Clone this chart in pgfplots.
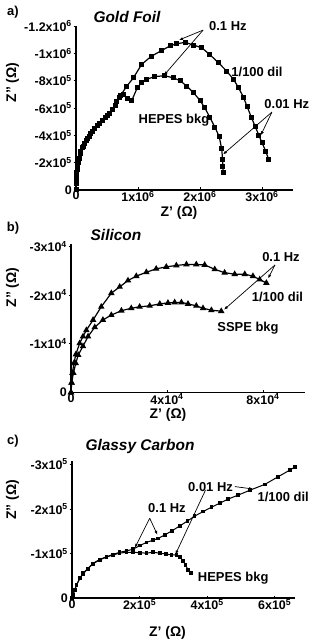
\documentclass[border=0pt]{standalone}
\usepackage{pgfplots}
\pgfplotsset{compat=1.18}
\usepackage{fontspec}
\setmainfont{Liberation Sans}
\usetikzlibrary{arrows.meta}
\newcommand{\sx}[2]{#1x10\textsuperscript{#2}}
\begin{document}
\begin{tikzpicture}[x=1bp,y=1bp]
\useasboundingbox (0,0) rectangle (312,641);
\tikzset{
  ann/.style={font=\bfseries\fontsize{13}{14}\selectfont, inner sep=0pt},
  arr/.style={-{Latex[length=4bp,width=3bp]}, line width=0.7bp},
  plab/.style={font=\bfseries\fontsize{13}{14}\selectfont},
  ttl/.style={font=\bfseries\itshape\fontsize{15.5}{17}\selectfont},
  alab/.style={font=\bfseries\fontsize{14}{15}\selectfont}}
\pgfplotsset{
  panel/.style={
    scale only axis, anchor=south west,
    axis x line*=bottom, axis y line*=left,
    axis line style={-, line width=1.6bp},
    y dir=reverse, scaled ticks=false,
    tick style={black, line width=0.8bp},
    major tick length=2.5bp,
    xtick align=inside, ytick align=outside,
    tick label style={font=\bfseries\fontsize{12.5}{13}\selectfont},
    xticklabel style={inner sep=1bp},
    yticklabel style={inner sep=1.5bp},
    clip=false,
    every axis plot/.append style={black, line width=1.2bp},
  },
}
% ---------- panel a ----------
\begin{axis}[panel, at={(76bp,451bp)}, width=217bp, height=164bp,
  xmin=0, xmax=3.5e6, ymin=-1.2e6, ymax=0,
  xtick={0,1e6,2e6,3e6}, xticklabels={0,\sx{1}{6},\sx{2}{6},\sx{3}{6}},
  ytick={-1.2e6,-1e6,-8e5,-6e5,-4e5,-2e5,0},
  yticklabels={-\sx{1.2}{6},-\sx{1}{6},-\sx{8}{5},-\sx{6}{5},-\sx{4}{5},-\sx{2}{5},0}]
\addplot[mark=square*, mark size=1.9bp] coordinates {
(0,0)(0.005e6,-0.05e6)(0.01e6,-0.1e6)(0.02e6,-0.15e6)(0.04e6,-0.2e6)(0.065e6,-0.27e6)
(0.1e6,-0.31e6)(0.145e6,-0.34e6)(0.185e6,-0.38e6)(0.226e6,-0.41e6)(0.306e6,-0.45e6)
(0.387e6,-0.485e6)(0.468e6,-0.53e6)(0.548e6,-0.56e6)(0.63e6,-0.62e6)(0.70e6,-0.68e6)
(0.82e6,-0.76e6)(0.925e6,-0.82e6)(1.06e6,-0.92e6)(1.22e6,-0.98e6)(1.38e6,-1.02e6)
(1.52e6,-1.055e6)(1.62e6,-1.07e6)(1.76e6,-1.08e6)(1.90e6,-1.06e6)(2.03e6,-1.04e6)
(2.16e6,-0.99e6)(2.30e6,-0.93e6)(2.43e6,-0.87e6)(2.54e6,-0.81e6)(2.62e6,-0.75e6)
(2.70e6,-0.68e6)(2.76e6,-0.61e6)(2.83e6,-0.53e6)(2.89e6,-0.465e6)(2.95e6,-0.40e6)
(3.00e6,-0.345e6)(3.06e6,-0.285e6)(3.11e6,-0.22e6)};
\addplot[mark=square*, mark size=1.9bp] coordinates {
(0,0)(0.008e6,-0.08e6)(0.015e6,-0.13e6)(0.03e6,-0.18e6)(0.05e6,-0.23e6)(0.08e6,-0.28e6)
(0.12e6,-0.32e6)(0.17e6,-0.36e6)(0.21e6,-0.39e6)(0.27e6,-0.43e6)(0.35e6,-0.47e6)
(0.43e6,-0.51e6)(0.51e6,-0.545e6)(0.59e6,-0.59e6)(0.66e6,-0.65e6)(0.72e6,-0.69e6)
(0.76e6,-0.70e6)(0.83e6,-0.67e6)(0.90e6,-0.655e6)(0.99e6,-0.75e6)(1.06e6,-0.785e6)
(1.14e6,-0.81e6)(1.27e6,-0.83e6)(1.435e6,-0.836e6)(1.57e6,-0.82e6)(1.68e6,-0.80e6)
(1.785e6,-0.76e6)(1.89e6,-0.715e6)(2.00e6,-0.655e6)(2.08e6,-0.60e6)(2.16e6,-0.53e6)
(2.24e6,-0.46e6)(2.31e6,-0.39e6)(2.35e6,-0.30e6)(2.365e6,-0.22e6)(2.37e6,-0.17e6)
(2.375e6,-0.13e6)};
\node[ann] at (axis cs:2.45e6,-1.2e6) {0.1 Hz};
\draw[arr] (axis cs:2.05e6,-1.17e6) -- (axis cs:1.66e6,-1.097e6);
\draw[arr] (axis cs:2.05e6,-1.17e6) -- (axis cs:1.42e6,-0.84e6);
\node[ann] at (axis cs:2.92e6,-0.863e6) {1/100 dil};
\node[ann] at (axis cs:3.40e6,-0.63e6) {0.01 Hz};
\draw[arr] (axis cs:3.16e6,-0.57e6) -- (axis cs:2.98e6,-0.40e6);
\draw[arr] (axis cs:3.16e6,-0.57e6) -- (axis cs:2.37e6,-0.26e6);
\node[ann] at (axis cs:1.58e6,-0.51e6) {HEPES bkg};
\end{axis}
% ---------- panel b ----------
\begin{axis}[panel, at={(71bp,248.5bp)}, width=234bp, height=148.5bp,
  xmin=0, xmax=9.75e4, ymin=-3.05e4, ymax=0,
  xtick={0,4e4,8e4}, xticklabels={0,\sx{4}{4},\sx{8}{4}},
  ytick={-3e4,-2e4,-1e4,0},
  yticklabels={-\sx{3}{4},-\sx{2}{4},-\sx{1}{4},0}]
\addplot[mark=triangle*, mark size=2.6bp] coordinates {
(0,0)(0.02e4,-0.2e4)(0.06e4,-0.4e4)(0.12e4,-0.6e4)(0.2e4,-0.78e4)(0.36e4,-1.01e4)
(0.5e4,-1.15e4)(0.64e4,-1.28e4)(0.92e4,-1.49e4)(1.26e4,-1.76e4)(1.68e4,-2.04e4)
(2.03e4,-2.17e4)(2.375e4,-2.30e4)(2.72e4,-2.39e4)(3.14e4,-2.47e4)(3.55e4,-2.54e4)
(3.97e4,-2.58e4)(4.39e4,-2.61e4)(4.81e4,-2.63e4)(5.22e4,-2.63e4)(5.57e4,-2.62e4)
(5.99e4,-2.53e4)(6.40e4,-2.46e4)(6.82e4,-2.43e4)(7.24e4,-2.43e4)(7.58e4,-2.39e4)
(7.86e4,-2.32e4)(8.14e4,-2.25e4)};
\addplot[mark=triangle*, mark size=2.6bp] coordinates {
(0,0)(0.03e4,-0.2e4)(0.1e4,-0.4e4)(0.2e4,-0.6e4)(0.3e4,-0.77e4)(0.5e4,-0.95e4)
(0.71e4,-1.15e4)(0.99e4,-1.34e4)(1.33e4,-1.49e4)(1.68e4,-1.59e4)(2.10e4,-1.68e4)
(2.51e4,-1.73e4)(2.86e4,-1.76e4)(3.28e4,-1.78e4)(3.70e4,-1.82e4)(4.04e4,-1.84e4)
(4.32e4,-1.85e4)(4.60e4,-1.85e4)(4.875e4,-1.82e4)(5.22e4,-1.78e4)(5.5e4,-1.73e4)
(5.85e4,-1.69e4)(6.26e4,-1.67e4)};
\node[ann] at (axis cs:8.75e4,-2.79e4) {0.1 Hz};
\draw[arr] (axis cs:8.5e4,-2.62e4) -- (axis cs:8.21e4,-2.34e4);
\draw[arr] (axis cs:8.5e4,-2.62e4) -- (axis cs:6.375e4,-1.70e4);
\node[ann] at (axis cs:8.6e4,-1.97e4) {1/100 dil};
\node[ann] at (axis cs:7.375e4,-1.32e4) {SSPE bkg};
\end{axis}
% ---------- panel c ----------
\begin{axis}[panel, at={(72bp,42.7bp)}, width=223bp, height=137.2bp,
  xmin=0, xmax=6.6e5, ymin=-3.07e5, ymax=0,
  xtick={0,2e5,4e5,6e5}, xticklabels={0,\sx{2}{5},\sx{4}{5},\sx{6}{5}},
  ytick={-3e5,-2e5,-1e5,0},
  yticklabels={-\sx{3}{5},-\sx{2}{5},-\sx{1}{5},0}]
\addplot[mark=square*, mark size=1.3bp, line width=1bp] coordinates {
(0,0)(0.03e5,-0.08e5)(0.08e5,-0.19e5)(0.13e5,-0.30e5)(0.23e5,-0.45e5)(0.33e5,-0.56e5)
(0.47e5,-0.67e5)(0.62e5,-0.78e5)(0.82e5,-0.87e5)(1.02e5,-0.93e5)(1.21e5,-0.98e5)
(1.41e5,-1.03e5)(1.61e5,-1.06e5)(1.81e5,-1.10e5)(2.01e5,-1.18e5)(2.20e5,-1.25e5)
(2.40e5,-1.30e5)(2.55e5,-1.34e5)(2.75e5,-1.42e5)(2.96e5,-1.51e5)(3.19e5,-1.62e5)
(3.42e5,-1.73e5)(3.63e5,-1.84e5)(3.88e5,-1.94e5)(4.13e5,-2.04e5)(4.38e5,-2.13e5)
(4.62e5,-2.22e5)(4.92e5,-2.31e5)(5.27e5,-2.42e5)(5.71e5,-2.55e5)(6.10e5,-2.72e5)
(6.45e5,-2.87e5)(6.60e5,-2.94e5)};
\addplot[mark=square*, mark size=1.3bp, line width=1bp] coordinates {
(0,0)(0.03e5,-0.07e5)(0.08e5,-0.18e5)(0.13e5,-0.29e5)(0.23e5,-0.44e5)(0.33e5,-0.55e5)
(0.47e5,-0.66e5)(0.62e5,-0.77e5)(0.82e5,-0.86e5)(1.02e5,-0.92e5)(1.21e5,-0.97e5)
(1.41e5,-1.01e5)(1.61e5,-1.03e5)(1.81e5,-1.03e5)(2.01e5,-1.02e5)(2.20e5,-1.01e5)
(2.40e5,-1.03e5)(2.60e5,-1.01e5)(2.79e5,-0.99e5)(2.94e5,-0.97e5)(3.09e5,-0.97e5)
(3.19e5,-0.93e5)(3.29e5,-0.83e5)(3.36e5,-0.745e5)(3.44e5,-0.63e5)(3.52e5,-0.56e5)};
\node[ann] at (axis cs:2.81e5,-2.01e5) {0.1 Hz};
\draw[arr] (axis cs:2.30e5,-1.79e5) -- (axis cs:1.86e5,-1.13e5);
\draw[arr] (axis cs:2.30e5,-1.79e5) -- (axis cs:2.53e5,-1.42e5);
\node[ann] at (axis cs:4.10e5,-2.50e5) {0.01 Hz};
\draw[arr] (axis cs:4.82e5,-2.50e5) -- (axis cs:5.36e5,-2.445e5);
\draw[arr] (axis cs:3.95e5,-2.42e5) -- (axis cs:3.06e5,-0.98e5);
\node[ann] at (axis cs:6.25e5,-2.27e5) {1/100 dil};
\node[ann] at (axis cs:4.77e5,-0.46e5) {HEPES bkg};
\end{axis}
% ---------- labels ----------
\node[plab] at (13,628.5) {a)};
\node[ttl] at (127,624.5) {Gold Foil};
\node[alab, rotate=90] at (12.5,558.5) {Z” (Ω)};
\node[alab] at (179,428) {Z’ (Ω)};
\node[plab] at (13,413) {b)};
\node[ttl] at (116,406) {Silicon};
\node[alab, rotate=90] at (12.5,353.5) {Z” (Ω)};
\node[alab] at (168,226) {Z’ (Ω)};
\node[plab] at (13,200) {c)};
\node[ttl] at (140,194) {Glassy Carbon};
\node[alab, rotate=90] at (12.5,141) {Z” (Ω)};
\node[alab] at (167.5,8) {Z’ (Ω)};
\end{tikzpicture}
\end{document}
